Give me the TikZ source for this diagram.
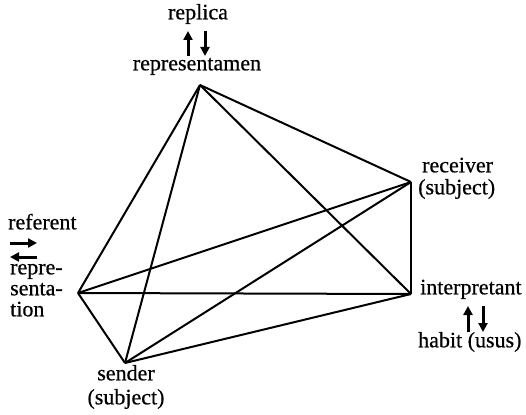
\documentclass[tikz,border=0pt]{standalone}
\usepackage{fontspec}
\setmainfont{Liberation Serif}[FakeBold=0.6]
\usetikzlibrary{arrows.meta}
\begin{document}
\begin{tikzpicture}[x=1pt,y=-1pt,
  edge/.style={line width=2pt,line join=miter},
  lbl/.style={inner sep=0pt,font=\fontsize{22}{24}\selectfont},
  arr/.style={line width=3pt,-{Triangle[length=9pt,width=9pt]}}]
\useasboundingbox (0,0) rectangle (526,414);
% vertices
\coordinate (R) at (200,85);
\coordinate (rec) at (411,182);
\coordinate (int) at (411,294);
\coordinate (ref) at (78,293);
\coordinate (sen) at (125,363);
% edges
\draw[edge] (R) -- (ref);
\draw[edge] (R) -- (sen);
\draw[edge] (R) -- (rec);
\draw[edge] (R) -- (int);
\draw[edge] (ref) -- (rec);
\draw[edge] (ref) -- (int);
\draw[edge] (ref) -- (sen);
\draw[edge] (sen) -- (rec);
\draw[edge] (sen) -- (int);
\draw[edge] (rec) -- (int);
% labels
\node[lbl,anchor=mid] (replica) at (198,17) {replica};
\node[lbl,anchor=mid] (repr) at (197,68) {representamen};
\node[lbl,anchor=mid west] (referent) at (8,227) {referent};
\node[lbl,anchor=mid west] (rp1) at (10,272) {repre-};
\node[lbl,anchor=mid west] (rp2) at (10,293) {senta-};
\node[lbl,anchor=mid west] (rp3) at (10,314) {tion};
\node[lbl,anchor=mid west] (receiver) at (422,170) {receiver};
\node[lbl,anchor=mid west] (recsub) at (418,192) {(subject)};
\node[lbl,anchor=mid west] (interp) at (420,292) {interpretant};
\node[lbl,anchor=mid west] (habit) at (418,345) {habit (usus)};
\node[lbl,anchor=mid] (sender) at (126,378) {sender};
\node[lbl,anchor=mid] (sensub) at (126,402) {(subject)};
% small arrows
\coordinate (a1s) at (188,56); \coordinate (a1e) at (188,31);
\coordinate (a2s) at (205,31); \coordinate (a2e) at (205,56);
\coordinate (b1s) at (468,332); \coordinate (b1e) at (468,306);
\coordinate (b2s) at (483,306); \coordinate (b2e) at (483,332);
\coordinate (c1s) at (10,243); \coordinate (c1e) at (37,243);
\coordinate (c2s) at (37,257); \coordinate (c2e) at (10,257);
\draw[arr] (a1s) -- (a1e);
\draw[arr] (a2s) -- (a2e);
\draw[arr] (b1s) -- (b1e);
\draw[arr] (b2s) -- (b2e);
\draw[arr] (c1s) -- (c1e);
\draw[arr] (c2s) -- (c2e);
\end{tikzpicture}
\end{document}
